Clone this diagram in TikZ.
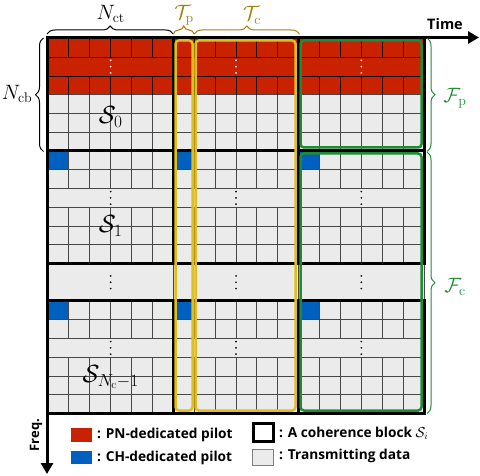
\documentclass[tikz,border=0pt]{standalone}
\usepackage{fontspec}
\setsansfont{Open Sans}
\usetikzlibrary{arrows.meta,decorations.pathreplacing}
\definecolor{pnred}{RGB}{200,34,0}
\definecolor{chblue}{RGB}{0,96,192}
\definecolor{cellgray}{RGB}{235,235,235}
\definecolor{tyellow}{RGB}{226,190,24}
\definecolor{tlabel}{RGB}{160,128,10}
\definecolor{fgreen}{RGB}{30,140,50}
\tikzset{
  thinline/.style={draw=black!72,line width=0.8pt},
  redline/.style={draw=black!85!pnred,line width=0.8pt},
  thickline/.style={draw=black,line width=3pt,line cap=rect},
  yrect/.style={draw=tyellow,line width=2.5pt,rounded corners=3.5pt},
  grect/.style={draw=fgreen,line width=2.5pt,rounded corners=3.5pt},
  axis/.style={draw=black,line width=3pt,-{Triangle[length=11pt,width=12pt]}},
  bracebase/.style={decorate,decoration={brace,amplitude=8pt},line width=1pt},
  mlabel/.style={font=\fontsize{20}{22}\selectfont,inner sep=0pt},
  slabel/.style={font=\fontsize{23}{25}\selectfont,inner sep=0pt},
  legtext/.style={font=\sffamily\bfseries\fontsize{13.7}{16}\selectfont,anchor=west,inner sep=0pt},
  dotw/.style={fill=white},
  dotb/.style={fill=black},
}
\begin{document}
\begin{tikzpicture}[x=1pt,y=-1pt]
\useasboundingbox (0,0) rectangle (480,476);
\def\w{20.8889}
\def\h{18.75}
\def\X{48}
\def\Y{38.5}
% fills
\fill[cellgray] (\X,\Y) rectangle (424,{\Y+20*\h});
\fill[pnred] (\X,\Y) rectangle (424,{\Y+3*\h});
\foreach \g in {0,1,2}{
  \foreach \r in {6,14}{
    \fill[chblue] ({\X+6*\g*\w},{\Y+\r*\h}) rectangle ++(\w,\h);
  }
}
% thin horizontal lines
\foreach \r in {1,2}{
  \draw[redline] (\X,{\Y+\r*\h}) -- (424,{\Y+\r*\h});
}
\foreach \r in {3,4,5,7,8,9,10,11,15,16,17,18,19}{
  \draw[thinline] (\X,{\Y+\r*\h}) -- (424,{\Y+\r*\h});
}
% thin vertical lines
\foreach \c in {1,2,3,4,5,7,8,9,10,11,13,14,15,16,17}{
  \draw[redline] ({\X+\c*\w},{\Y}) -- ({\X+\c*\w},{\Y+\h});
  \draw[redline] ({\X+\c*\w},{\Y+2*\h}) -- ({\X+\c*\w},{\Y+3*\h});
  \foreach \a/\b in {3/6,6/8,9/12,14/16,17/20}{
    \draw[thinline] ({\X+\c*\w},{\Y+\a*\h}) -- ({\X+\c*\w},{\Y+\b*\h});
  }
}
\foreach \c in {6,12,18}{
  \draw[thinline] ({\X+\c*\w},{\Y+12*\h}) -- ({\X+\c*\w},{\Y+14*\h});
}
% thick lines
\foreach \r in {6,12,14,20}{
  \draw[thickline] (\X,{\Y+\r*\h}) -- (424,{\Y+\r*\h});
}
\foreach \c in {6,12,18}{
  \draw[thickline] ({\X+\c*\w},\Y) -- ({\X+\c*\w},{\Y+12*\h});
  \draw[thickline] ({\X+\c*\w},{\Y+14*\h}) -- ({\X+\c*\w},{\Y+20*\h});
}
% dots
\foreach \g in {0,1,2}{
  \pgfmathsetmacro{\cx}{\X+(6*\g+3)*\w}
  \foreach \cy/\st in {{\Y+1.5*\h}/dotw,{\Y+8.5*\h}/dotb,{\Y+13*\h}/dotb,{\Y+16.5*\h}/dotb}{
    \foreach \d in {-6.3,0,6.3}{
      \fill[\st] (\cx,{\cy+\d}) circle (0.95);
    }
  }
}
% axes
\coordinate (orig) at (46,37.5);
\coordinate (tend) at (479,37.5);
\coordinate (origv) at (47,36);
\coordinate (fend) at (47,474);
\draw[axis] (orig) -- (tend);
\draw[axis] (origv) -- (fend);
\node[font=\sffamily\bfseries\fontsize{14.5}{16}\selectfont,inner sep=0pt] (time) at (445,24.5) {Time};
\node[font=\sffamily\bfseries\fontsize{13}{15}\selectfont,inner sep=0pt,rotate=90] (freq) at (36,435) {Freq.};
% yellow and green boxes
\draw[yrect] (175.5,40.5) rectangle (192.5,410.5);
\draw[yrect] (195.5,40.5) rectangle (295.5,410.5);
\draw[grect] (300.5,40.5) rectangle (421.5,147.5);
\draw[grect] (300.5,153.5) rectangle (421.5,410.5);
% block labels
\node[slabel] (s0) at (110.7,117) {$\mathcal{S}_0$};
\node[slabel] (s1) at (110.7,226) {$\mathcal{S}_1$};
\node[slabel] (sn) at (110.7,377) {$\mathcal{S}_{N_{\mathrm{c}}-1}$};
% braces
\draw[bracebase] (47,34) -- (173.3,34);
\node[mlabel] (nct) at (110.7,14) {$N_{\mathrm{ct}}$};
\draw[bracebase,draw=tlabel] (173.3,34) -- (194.2,34);
\node[mlabel,text=tlabel] (tp) at (184,15.5) {$\mathcal{T}_{\mathrm{p}}$};
\draw[bracebase,draw=tlabel] (194.2,34) -- (299.5,34);
\node[mlabel,text=tlabel] (tc) at (252,15.5) {$\mathcal{T}_{\mathrm{c}}$};
\draw[bracebase] (43.5,151.5) -- (43.5,38);
\node[mlabel] (ncb) at (17,94) {$N_{\mathrm{cb}}$};
\draw[bracebase,draw=fgreen] (427,38) -- (427,151.5);
\node[mlabel,text=fgreen] (fp) at (455,98) {$\mathcal{F}_{\mathrm{p}}$};
\draw[bracebase,draw=fgreen] (427,152) -- (427,413.5);
\node[mlabel,text=fgreen] (fc) at (455,287) {$\mathcal{F}_{\mathrm{c}}$};
% legend
\fill[pnred] (71,428.3) rectangle (91.7,442.3);
\node[legtext] (l1) at (97,435) {: PN-dedicated pilot};
\fill[chblue] (71,450.7) rectangle (91.7,464.3);
\node[legtext] (l2) at (97,457.5) {: CH-dedicated pilot};
\draw[black,line width=3pt,fill=white] (253.5,423.5) rectangle (273.5,441.8);
\node[legtext] (l3) at (279,433) {: A coherence block $\mathcal{S}_i$};
\draw[black!50,line width=0.8pt,fill=cellgray] (252.5,449) rectangle (273,465);
\node[legtext] (l4) at (279,456) {: Transmitting data};
\end{tikzpicture}
\end{document}
